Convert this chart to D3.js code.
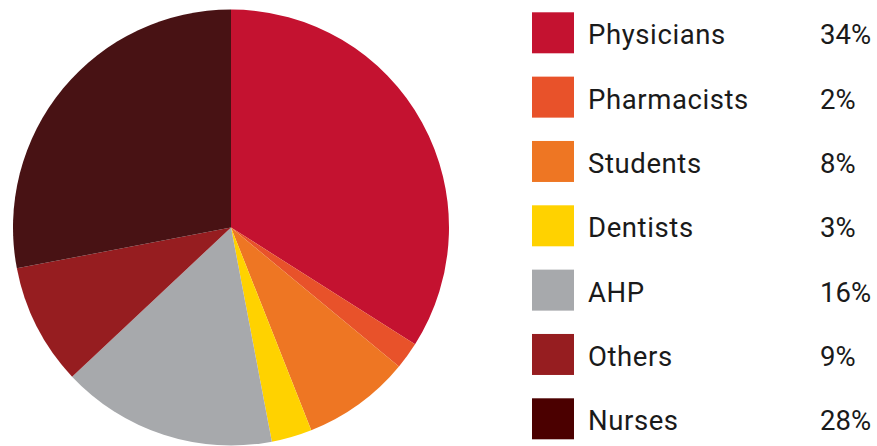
<!DOCTYPE html>
<html>
<head>
<meta charset="utf-8">
<script src="https://cdn.jsdelivr.net/npm/d3@7"></script>
<style>
  body { margin: 0; background: #fff; }
</style>
</head>
<body>
<div id="chart"></div>
<script>
// chart data
const categories = ["Physicians", "Pharmacists", "Students", "Dentists", "AHP", "Others", "Nurses"];
const shares = [34, 2, 8, 3, 16, 9, 28];
const colors = ["#c41230", "#e8522a", "#ee7623", "#ffd200", "#a7a9ac", "#961d20", "#481214"];
const legendColors = ["#c41230", "#e8522a", "#ee7623", "#ffd200", "#a7a9ac", "#961d20", "#4b0000"];

const width = 877, height = 446;

const svg = d3.select("#chart")
  .append("svg")
    .attr("width", width)
    .attr("height", height);

const cx = 231, cy = 227.5, radius = 218;

const rows = categories.map((c, i) => ({name: c, value: shares[i], i: i}));

const pie = d3.pie()
  .value(d => d.value)
  .sort(null);

const arc = d3.arc()
  .innerRadius(0)
  .outerRadius(radius);

svg.append("g")
    .attr("transform", `translate(${cx}, ${cy})`)
  .selectAll("path")
  .data(pie(rows))
  .enter()
  .append("path")
    .attr("d", arc)
    .attr("fill", d => colors[d.data.i]);

// legend
const y = d3.scalePoint()
  .domain(categories)
  .range([12.3, 398.3]);

const legend = svg.append("g")
    .attr("id", "legend")
    .style("font", "27.5px Roboto, sans-serif")
    .attr("fill", "#1a1a1a");

const item = legend.selectAll("g")
  .data(rows)
  .enter()
  .append("g")
    .attr("transform", d => `translate(0, ${y(d.name)})`);

item.append("rect")
    .attr("x", 532)
    .attr("width", 42)
    .attr("height", 41)
    .attr("fill", d => legendColors[d.i]);

item.append("text")
    .attr("x", 588)
    .attr("y", 32)
    .style("letter-spacing", "0.6px")
    .text(d => d.name);

item.append("text")
    .attr("x", 820)
    .attr("y", 32)
    .text(d => d.value + "%");
</script>
</body>
</html>
